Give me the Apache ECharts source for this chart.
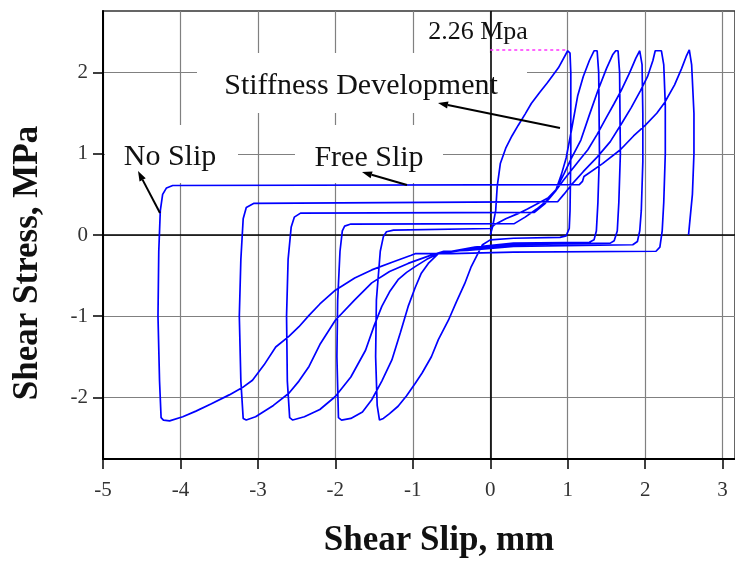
<!DOCTYPE html>
<html>
<head>
<meta charset="utf-8">
<script src="https://cdn.jsdelivr.net/npm/echarts@6/dist/echarts.min.js"></script>
<style>html,body{margin:0;padding:0;background:#fff;}#c{width:735px;height:561px;}</style>
</head>
<body>
<div id="c"></div>
<script>
// ---- tick labels ----
const xTicks = [-5, -4, -3, -2, -1, 0, 1, 2, 3];
const yTicks = [-2, -1, 0, 1, 2];
const xTitle = 'Shear Slip, mm';
const yTitle = 'Shear Stress, MPa';
const peakLabel = '2.26 Mpa';
const peakStress = 2.28;      // level of the dotted marker
const firstPeakSlip = 1.0;

// ---- hysteresis branches (shear slip mm, shear stress MPa) ----
const initialLoad = [[0,0],[0.03,0.1],[0.07,0.3],[0.09,0.6],[0.13,0.88],[0.2,1.07],[0.28,1.22],[0.36,1.35],[0.45,1.49],[0.53,1.62],[0.64,1.76],[0.74,1.88],[0.88,2.06],[1.0,2.27]];
const unload1 = [[1.03,2.24],[1.04,2.0],[1.04,1.0],[1.03,0.3],[1.02,0.08],[0.98,-0.01],[0.9,-0.03],[0.3,-0.04],[0.0,-0.06],[-0.1,-0.12]];
const reverse1 = [[-0.16,-0.23],[-0.25,-0.4],[-0.33,-0.6],[-0.44,-0.83],[-0.54,-1.05],[-0.67,-1.29],[-0.76,-1.5],[-0.88,-1.7],[-0.97,-1.83],[-1.08,-1.98],[-1.19,-2.11],[-1.3,-2.2],[-1.38,-2.26],[-1.43,-2.28]];
const reload1 = [[-1.46,-2.1],[-1.48,-1.5],[-1.47,-0.8],[-1.42,-0.2],[-1.38,-0.02],[-1.34,0.04],[-1.25,0.06],[0.0,0.08]];
const load2 = [[0.06,0.13],[0.2,0.2],[0.35,0.26],[0.48,0.32],[0.62,0.39],[0.75,0.46],[0.85,0.56],[0.92,0.75],[0.98,0.95],[1.05,1.3],[1.13,1.72],[1.2,1.95],[1.28,2.15],[1.34,2.27],[1.38,2.27]];
const unload2 = [[1.4,2.0],[1.41,1.0],[1.39,0.4],[1.37,0.05],[1.34,-0.06],[1.28,-0.09],[0.3,-0.1],[-0.2,-0.15],[-0.5,-0.2],[-0.67,-0.23]];
const reverse2 = [[-0.8,-0.35],[-0.89,-0.47],[-0.97,-0.65],[-1.06,-0.88],[-1.16,-1.2],[-1.27,-1.54],[-1.4,-1.8],[-1.53,-2.03],[-1.65,-2.18],[-1.8,-2.26],[-1.92,-2.28]];
const reload2 = [[-1.96,-2.25],[-1.98,-1.5],[-1.97,-0.8],[-1.94,-0.2],[-1.91,0.05],[-1.88,0.11],[-1.8,0.135],[0.31,0.14]];
const load3 = [[0.45,0.22],[0.6,0.32],[0.75,0.44],[0.85,0.56],[0.95,0.75],[1.05,0.95],[1.17,1.17],[1.28,1.48],[1.39,1.78],[1.5,2.05],[1.58,2.22],[1.62,2.27],[1.65,2.27]];
const unload3 = [[1.67,2.0],[1.68,1.0],[1.66,0.4],[1.64,0.05],[1.6,-0.07],[1.55,-0.1],[0.3,-0.12],[-0.3,-0.18],[-0.67,-0.23]];
const reverse3 = [[-0.82,-0.3],[-0.97,-0.39],[-1.08,-0.46],[-1.19,-0.55],[-1.3,-0.7],[-1.4,-0.88],[-1.5,-1.12],[-1.61,-1.42],[-1.8,-1.75],[-2.0,-1.99],[-2.2,-2.15],[-2.4,-2.24],[-2.55,-2.28]];
const reload3 = [[-2.59,-2.25],[-2.62,-1.8],[-2.63,-1.0],[-2.61,-0.3],[-2.57,0.1],[-2.53,0.22],[-2.45,0.27],[0.57,0.28]];
const load4 = [[0.7,0.38],[0.85,0.55],[0.95,0.68],[1.05,0.8],[1.15,0.92],[1.26,1.05],[1.38,1.24],[1.5,1.45],[1.6,1.62],[1.69,1.78],[1.8,2.0],[1.88,2.18],[1.93,2.27]];
const unload4 = [[1.96,2.1],[1.97,1.5],[1.97,0.9],[1.95,0.3],[1.93,0.05],[1.9,-0.08],[1.84,-0.12],[0.3,-0.14],[-0.3,-0.19],[-0.6,-0.2]];
const reverse4 = [[-0.8,-0.26],[-1.06,-0.35],[-1.3,-0.45],[-1.53,-0.59],[-1.75,-0.8],[-2.0,-1.05],[-2.2,-1.35],[-2.34,-1.62],[-2.47,-1.8],[-2.6,-1.95],[-2.8,-2.1],[-3.03,-2.24],[-3.15,-2.28]];
const reload4 = [[-3.19,-2.26],[-3.22,-1.8],[-3.24,-1.0],[-3.22,-0.3],[-3.19,0.2],[-3.15,0.34],[-3.05,0.39],[0.87,0.41]];
const load5 = [[0.95,0.5],[1.05,0.62],[1.2,0.78],[1.38,0.96],[1.55,1.15],[1.7,1.38],[1.82,1.57],[1.94,1.78],[2.03,1.95],[2.1,2.15],[2.13,2.27],[2.21,2.27]];
const unload5 = [[2.24,2.1],[2.26,1.6],[2.26,1.0],[2.24,0.4],[2.22,0.05],[2.19,-0.15],[2.14,-0.2],[0.3,-0.21],[-0.5,-0.23],[-0.97,-0.23]];
const reverse5 = [[-1.02,-0.25],[-1.25,-0.33],[-1.53,-0.43],[-1.75,-0.53],[-2.0,-0.68],[-2.2,-0.85],[-2.34,-0.99],[-2.47,-1.13],[-2.6,-1.25],[-2.77,-1.38],[-2.92,-1.6],[-3.07,-1.79],[-3.2,-1.88],[-3.37,-1.97],[-3.6,-2.08],[-3.8,-2.17],[-3.97,-2.24],[-4.14,-2.29],[-4.22,-2.28]];
const reload5 = [[-4.25,-2.25],[-4.27,-1.8],[-4.29,-1.0],[-4.28,-0.2],[-4.26,0.3],[-4.23,0.5],[-4.18,0.58],[-4.1,0.61],[1.15,0.62],[1.16,0.64],[1.19,0.66]];
const load6 = [[1.21,0.72],[1.45,0.88],[1.68,1.05],[1.85,1.22],[2.0,1.35],[2.15,1.5],[2.25,1.63],[2.38,1.85],[2.47,2.05],[2.53,2.2],[2.57,2.28]];
const unload6 = [[2.6,2.1],[2.63,1.5],[2.63,1.0],[2.61,0.5],[2.57,0.1],[2.56,0.0]];

const branches = [initialLoad, unload1, reverse1, reload1, load2, unload2, reverse2, reload2,
  load3, unload3, reverse3, reload3, load4, unload4, reverse4, reload4,
  load5, unload5, reverse5, reload5, load6, unload6];
const path = [].concat(...branches);

const serif = 'Liberation Serif';
const chart = echarts.init(document.getElementById('c'), null, {renderer: 'canvas'});

function arrow(x1, y1, x2, y2) {
  const dx = x2 - x1, dy = y2 - y1, L = Math.sqrt(dx*dx + dy*dy);
  const ux = dx / L, uy = dy / L, len = 10, hw = 3.5;
  const bx = x2 - ux*len, by = y2 - uy*len;
  return [
    {type: 'line', z: 20, shape: {x1: x1, y1: y1, x2: bx, y2: by}, style: {stroke: '#000', lineWidth: 2}},
    {type: 'polygon', z: 20, shape: {points: [[x2, y2], [bx - uy*hw, by + ux*hw], [bx + uy*hw, by - ux*hw]]}, style: {fill: '#000'}}
  ];
}

const label = (txt, x, y, size, weight, rot) => ({
  type: 'text', z: 21, x: x, y: y, rotation: rot || 0,
  style: {text: txt, font: (weight || 'normal') + ' ' + size + 'px "' + serif + '"', fill: '#111', align: 'center', verticalAlign: 'middle'}
});

const option = {
  animation: false,
  backgroundColor: '#fff',
  grid: {left: 103, right: -2, top: 11, bottom: 102, show: true, borderColor: '#333', borderWidth: 1.5, backgroundColor: 'transparent'},
  xAxis: {
    type: 'value', min: -5, max: 3.16, interval: 1,
    axisLine: {onZero: false, lineStyle: {color: '#000', width: 2}},
    axisTick: {show: true, inside: false, length: 10, lineStyle: {color: '#000', width: 1.5}, customValues: xTicks},
    axisLabel: {customValues: xTicks, margin: 21, fontFamily: serif, fontSize: 21, color: '#333',
      formatter: v => (xTicks.indexOf(v) >= 0 ? String(v) : '')},
    splitLine: {show: true, lineStyle: {color: '#808080', width: 1.2}}
  },
  yAxis: {
    type: 'value', min: -2.76, max: 2.76,
    axisLine: {onZero: false, lineStyle: {color: '#000', width: 2}},
    axisTick: {show: true, inside: false, length: 10, lineStyle: {color: '#000', width: 1.5}, customValues: yTicks},
    axisLabel: {customValues: yTicks, margin: 15, fontFamily: serif, fontSize: 21, color: '#333',
      formatter: v => (yTicks.indexOf(v) >= 0 ? String(v) : '')},
    splitLine: {show: true, lineStyle: {color: '#808080', width: 1.2}}
  },
  series: [
    {
      type: 'line', data: [], z: 1, silent: true,
      markLine: {silent: true, symbol: ['none', 'none'], label: {show: false},
        lineStyle: {color: '#000', width: 1.6, type: 'solid'},
        data: [{xAxis: 0}, {yAxis: 0}]}
    },
    {
      type: 'line', data: path, z: 5, showSymbol: false, smooth: false, silent: true,
      lineStyle: {color: '#0000ff', width: 1.7}, clip: true,
      markLine: {silent: true, symbol: ['none', 'none'], label: {show: false},
        lineStyle: {color: '#ff33ff', width: 1.5, type: [3, 3]},
        data: [[{coord: [0, peakStress]}, {coord: [firstPeakSlip, peakStress]}]]}
    }
  ],
  graphic: [
    {type: 'rect', z: 3, shape: {x: 197, y: 53, width: 330, height: 60}, style: {fill: '#fff'}},
    {type: 'rect', z: 3, shape: {x: 105, y: 125, width: 133, height: 58}, style: {fill: '#fff'}},
    {type: 'rect', z: 3, shape: {x: 295, y: 125, width: 148, height: 58}, style: {fill: '#fff'}},
    label('Stiffness Development', 361, 86, 30),
    label('No Slip', 170, 157, 30),
    label('Free Slip', 369, 158, 30),
    label(peakLabel, 478, 32, 26),
    label(xTitle, 439, 541, 35, 'bold'),
    label(yTitle, 28, 263, 35, 'bold', Math.PI / 2),
    ...arrow(160, 213, 138, 171),
    ...arrow(407, 185, 362, 172),
    ...arrow(560, 128, 438, 103)
  ]
};
chart.setOption(option);
</script>
</body>
</html>
